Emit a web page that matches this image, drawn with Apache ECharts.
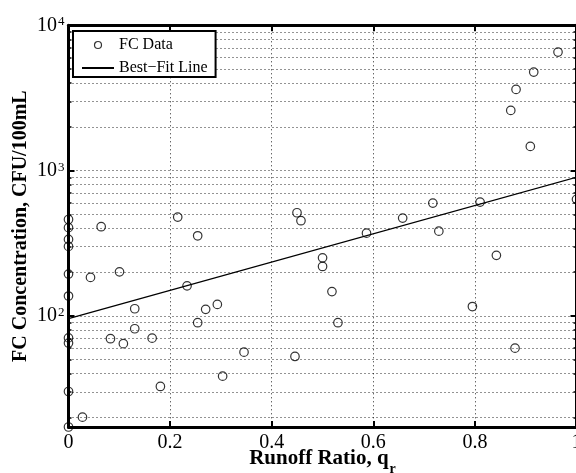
<!DOCTYPE html>
<html>
<head>
<meta charset="utf-8">
<script src="https://cdn.jsdelivr.net/npm/echarts@6/dist/echarts.min.js"></script>
<style>
  html, body { margin: 0; padding: 0; background: #fff; }
  #chart { width: 576px; height: 473px; }
</style>
</head>
<body>
<div id="chart"></div>
<script>
// runoff ratio and FC concentration
const runoffRatio = [
  0, 0, 0, 0, 0, 0, 0, 0, 0, 0,
  0.0275, 0.0433, 0.0643, 0.0826, 0.1004, 0.108, 0.1304, 0.1304, 0.1646, 0.1809,
  0.215, 0.2334, 0.2543, 0.2543, 0.270, 0.293, 0.3034, 0.3455,
  0.4458, 0.4498, 0.4576, 0.5001, 0.5001, 0.5186, 0.5304, 0.5866,
  0.6578, 0.7172, 0.729, 0.7951, 0.8102, 0.8423, 0.8706, 0.879, 0.881,
  0.9091, 0.9158, 0.9636, 1.0
];
const fcConc = [
  461, 405, 336, 301, 194, 137, 70.6, 65, 30.2, 17.2,
  20.1, 184, 411, 69.7, 201, 64.4, 112, 81.6, 70.3, 32.7,
  479, 161, 356, 89.8, 111, 120, 38.5, 56.3,
  52.6, 513, 452, 251, 219, 147, 89.8, 371,
  471, 598, 383, 116, 607, 261, 2597, 60, 3622,
  1468, 4762, 6539, 634
];
// best-fit line end points
const fitRatio = [0, 1];
const fitConc = [95.7, 901];

const yMin = 17.2;
const yMax = 10000;
const yMajor = [100, 1000, 10000];
const yMinor = [20, 30, 40, 50, 60, 70, 80, 90,
                200, 300, 400, 500, 600, 700, 800, 900,
                2000, 3000, 4000, 5000, 6000, 7000, 8000, 9000];

const serif = "'Liberation Serif', 'DejaVu Serif', serif";
const gridDots = { show: true, lineStyle: { color: '#000', width: 1, type: [1, 3], opacity: 0.85 } };
const frameLine = { show: true, lineStyle: { color: '#000', width: 3 } };

function yAxisBase(position) {
  return {
    type: 'log',
    logBase: 10,
    position: position,
    min: yMin,
    max: yMax,
    axisLine: { show: false },
    axisLabel: { show: false },
    axisTick: { show: false },
    splitLine: { show: false }
  };
}

const yLeft = yAxisBase('left');
yLeft.axisLine = frameLine;
yLeft.axisTick = { show: true, inside: true, length: 3, lineStyle: { color: '#000', width: 1.5 },
  customValues: yMinor.concat(yMajor) };
yLeft.splitLine = gridDots;
yLeft.axisLabel = {
  show: true, margin: 4, customValues: yMajor,
  formatter: function (v) { return '{b|10}{s|' + Math.round(Math.log10(v)) + '}'; },
  rich: {
    b: { fontFamily: serif, fontSize: 20, color: '#000', lineHeight: 20 },
    s: { fontFamily: serif, fontSize: 13, color: '#000', lineHeight: 13, verticalAlign: 'top', padding: [0, 0, 0, 1] }
  }
};
yLeft.name = 'FC Concentration, CFU/100mL';
yLeft.nameLocation = 'middle';
yLeft.nameGap = 37.5;
yLeft.nameMoveOverlap = false;
yLeft.nameTextStyle = { fontFamily: serif, fontSize: 20, fontWeight: 'bold', color: '#000' };

const yLeftMajor = yAxisBase('left');
yLeftMajor.axisTick = { show: true, inside: true, length: 6, lineStyle: { color: '#000', width: 2 },
  customValues: yMajor };

const yRight = yAxisBase('right');
yRight.axisLine = frameLine;
yRight.axisTick = { show: true, inside: true, length: 3, lineStyle: { color: '#000', width: 1.5 },
  customValues: yMinor };

const yRightMajor = yAxisBase('right');
yRightMajor.axisTick = { show: true, inside: true, length: 6, lineStyle: { color: '#000', width: 2 },
  customValues: yMajor };

const chart = echarts.init(document.getElementById('chart'));
chart.setOption({
  animation: false,
  backgroundColor: '#fff',
  grid: { left: 68.5, top: 25.3, width: 508, height: 401.7, outerBoundsMode: 'none' },
  legend: {
    orient: 'vertical',
    left: 73, top: 31,
    padding: [6, 8, 1, 8],
    itemWidth: 32, itemHeight: 7, itemGap: 7,
    borderColor: '#000', borderWidth: 2,
    backgroundColor: '#fff',
    textStyle: { fontFamily: serif, fontSize: 16, color: '#000', lineHeight: 16 },
    data: [
      { name: 'FC Data', icon: 'circle',
        itemStyle: { color: 'rgba(0,0,0,0)', borderColor: '#000', borderWidth: 1.2 } },
      { name: 'Best−Fit Line', itemStyle: { opacity: 0 } }
    ]
  },
  xAxis: [
    {
      type: 'value', position: 'bottom', min: 0, max: 1, interval: 0.2,
      axisLine: frameLine,
      axisTick: { show: true, inside: true, length: 6, lineStyle: { color: '#000', width: 2 } },
      axisLabel: { fontFamily: serif, fontSize: 20, color: '#000', margin: 5.5 },
      splitLine: gridDots,
      name: '{m|Runoff Ratio, q}{r|r}',
      nameLocation: 'middle',
      nameGap: 21,
      nameMoveOverlap: false,
      nameTextStyle: {
        fontFamily: serif, fontSize: 21, fontWeight: 'bold', color: '#000',
        rich: {
          m: { fontFamily: serif, fontSize: 21, fontWeight: 'bold', color: '#000', lineHeight: 21, verticalAlign: 'top' },
          r: { fontFamily: serif, fontSize: 14, fontWeight: 'bold', color: '#000', lineHeight: 14, verticalAlign: 'top', padding: [14, 0, 0, 1] }
        }
      }
    },
    {
      type: 'value', position: 'top', min: 0, max: 1, interval: 0.2,
      axisLine: frameLine,
      axisTick: { show: true, inside: true, length: 6, lineStyle: { color: '#000', width: 2 } },
      axisLabel: { show: false },
      splitLine: { show: false }
    }
  ],
  yAxis: [yLeft, yLeftMajor, yRight, yRightMajor],
  series: [
    {
      name: 'FC Data',
      type: 'scatter',
      symbol: 'circle',
      symbolSize: 8.5,
      itemStyle: { color: 'rgba(0,0,0,0)', borderColor: '#000', borderWidth: 1.2 },
      data: runoffRatio.map((q, i) => [q, fcConc[i]]),
      z: 4
    },
    {
      name: 'Best−Fit Line',
      type: 'line',
      symbol: 'none',
      lineStyle: { color: '#000', width: 1.3 },
      itemStyle: { color: '#000' },
      data: fitRatio.map((q, i) => [q, fitConc[i]]),
      z: 3
    }
  ]
});
</script>
</body>
</html>
